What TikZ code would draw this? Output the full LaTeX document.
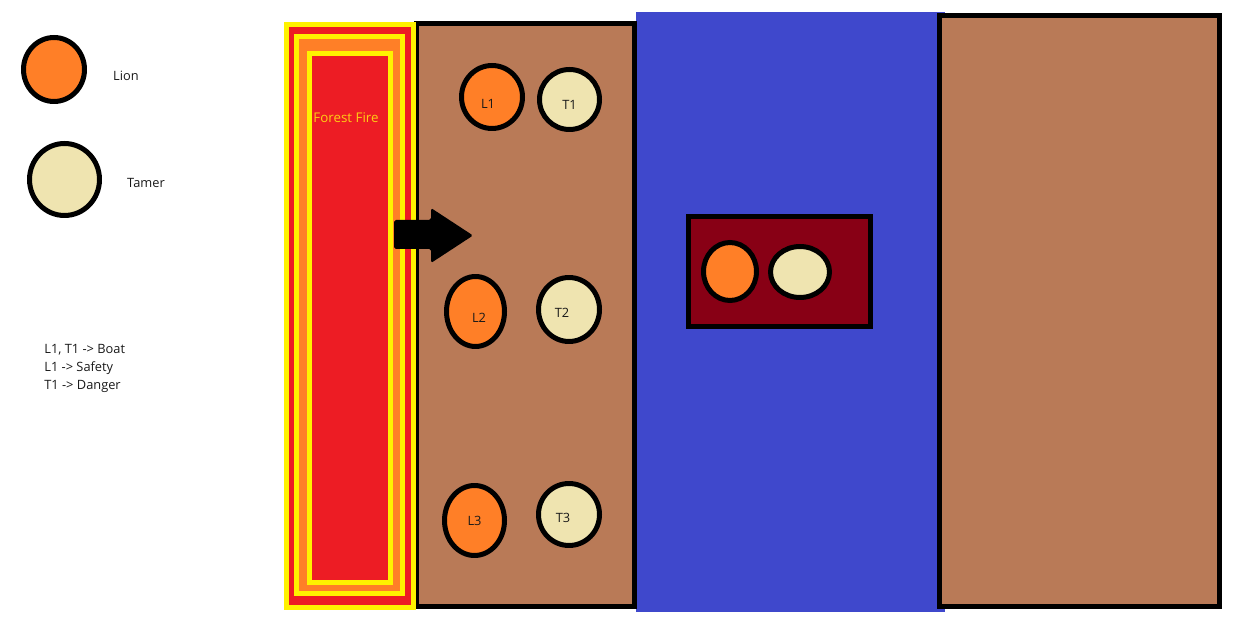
\documentclass[tikz,border=0pt]{standalone}
\definecolor{lionorange}{RGB}{255, 127, 39}
\definecolor{tamertan}{RGB}{239, 228, 176}
\definecolor{bankbrown}{RGB}{185, 122, 87}
\definecolor{riverblue}{RGB}{63, 72, 204}
\definecolor{boatred}{RGB}{136, 0, 21}
\definecolor{firered}{RGB}{237, 28, 36}
\definecolor{fireyellow}{RGB}{255, 242, 0}
\definecolor{firegold}{RGB}{255, 205, 20}
\usepackage{fontspec}
\setmainfont{Open Sans}
\usepackage{tikz}
\usetikzlibrary{shapes.geometric, positioning}

\tikzset{
    lion/.style={ellipse, draw=black, line width=0.1cm, fill=lionorange, inner sep=0pt},
    tamer/.style={ellipse, draw=black, line width=0.1cm, fill=tamertan, inner sep=0pt},
    tag/.style={font=\fontsize{7.3}{9}\selectfont, text=black!90}
}

\begin{document}
\begin{tikzpicture}[x=0.02cm, y=-0.02cm]
            \useasboundingbox (0,0) rectangle (1250,641);
            % legend
            \node[lion, minimum width=1.22cm, minimum height=1.28cm] (keylion) at (54,69.5) {};
            \node[tag, anchor=west] (keylionlbl) at (107,76) {Lion};
            \node[tamer, minimum width=1.40cm, minimum height=1.44cm] (keytamer) at (64.5,179.5) {};
            \node[tag, anchor=west] (keytamerlbl) at (121,183) {Tamer};
            \node[tag, anchor=north west, align=left, inner sep=0pt, font=\fontsize{7.3}{10.2}\selectfont] (moves) at (44,344)
                {L1, T1 -> Boat\\L1 -> Safety\\T1 -> Danger};
            % river and banks
            \fill[riverblue] (636,12) rectangle (945,612);
            \draw[line width=0.1cm, fill=bankbrown] (416.5,23.5) rectangle (634.5,606.5);
            \draw[line width=0.1cm, fill=bankbrown] (939.5,15.5) rectangle (1219.5,606.5);
            % forest fire
            \foreach \col/\xa/\ya/\xb/\yb in {fireyellow/284/22/416/610, firered/289/27/411/605,
                fireyellow/294/34/405/596, lionorange/299/39/400/591,
                fireyellow/307/51/393/585, firered/312/56/388/580} {
                \fill[\col] (\xa,\ya) rectangle (\xb,\yb);
            }
            \node[font=\fontsize{7.6}{9}\selectfont, text=firegold] (fire) at (346,118) {Forest Fire};
            \fill[black, rounded corners=1pt] (394,220) -- (431,220) -- (431,208) -- (473,235.5)
                -- (431,263) -- (431,249) -- (394,249) -- cycle;
            % lions and tamers on the bank
            \node[lion, minimum width=1.22cm, minimum height=1.26cm,
                label={[tag, xshift=-0.08cm, yshift=-0.14cm]center:L1}] (L1) at (492,97) {};
            \node[tamer, minimum width=1.20cm, minimum height=1.20cm,
                label={[tag, yshift=-0.11cm]center:T1}] (T1) at (569.5,99.5) {};
            \node[lion, minimum width=1.16cm, minimum height=1.40cm,
                label={[tag, xshift=0.07cm, yshift=-0.13cm]center:L2}] (L2) at (475.5,311.5) {};
            \node[tamer, minimum width=1.22cm, minimum height=1.28cm,
                label={[tag, xshift=-0.14cm, yshift=-0.07cm]center:T2}] (T2) at (569,309.5) {};
            \node[lion, minimum width=1.20cm, minimum height=1.40cm,
                label={[tag]center:L3}] (L3) at (474.5,520.5) {};
            \node[tamer, minimum width=1.22cm, minimum height=1.24cm,
                label={[tag, xshift=-0.12cm, yshift=-0.07cm]center:T3}] (T3) at (569,514.5) {};
            % boat
            \draw[line width=0.1cm, fill=boatred] (688.5,216.5) rectangle (870.5,326.5);
            \node[lion, minimum width=1.06cm, minimum height=1.16cm] (boatlion) at (730,271.5) {};
            \node[tamer, minimum width=1.18cm, minimum height=1.02cm] (boattamer) at (800,272) {};
        \end{tikzpicture}
\end{document}
